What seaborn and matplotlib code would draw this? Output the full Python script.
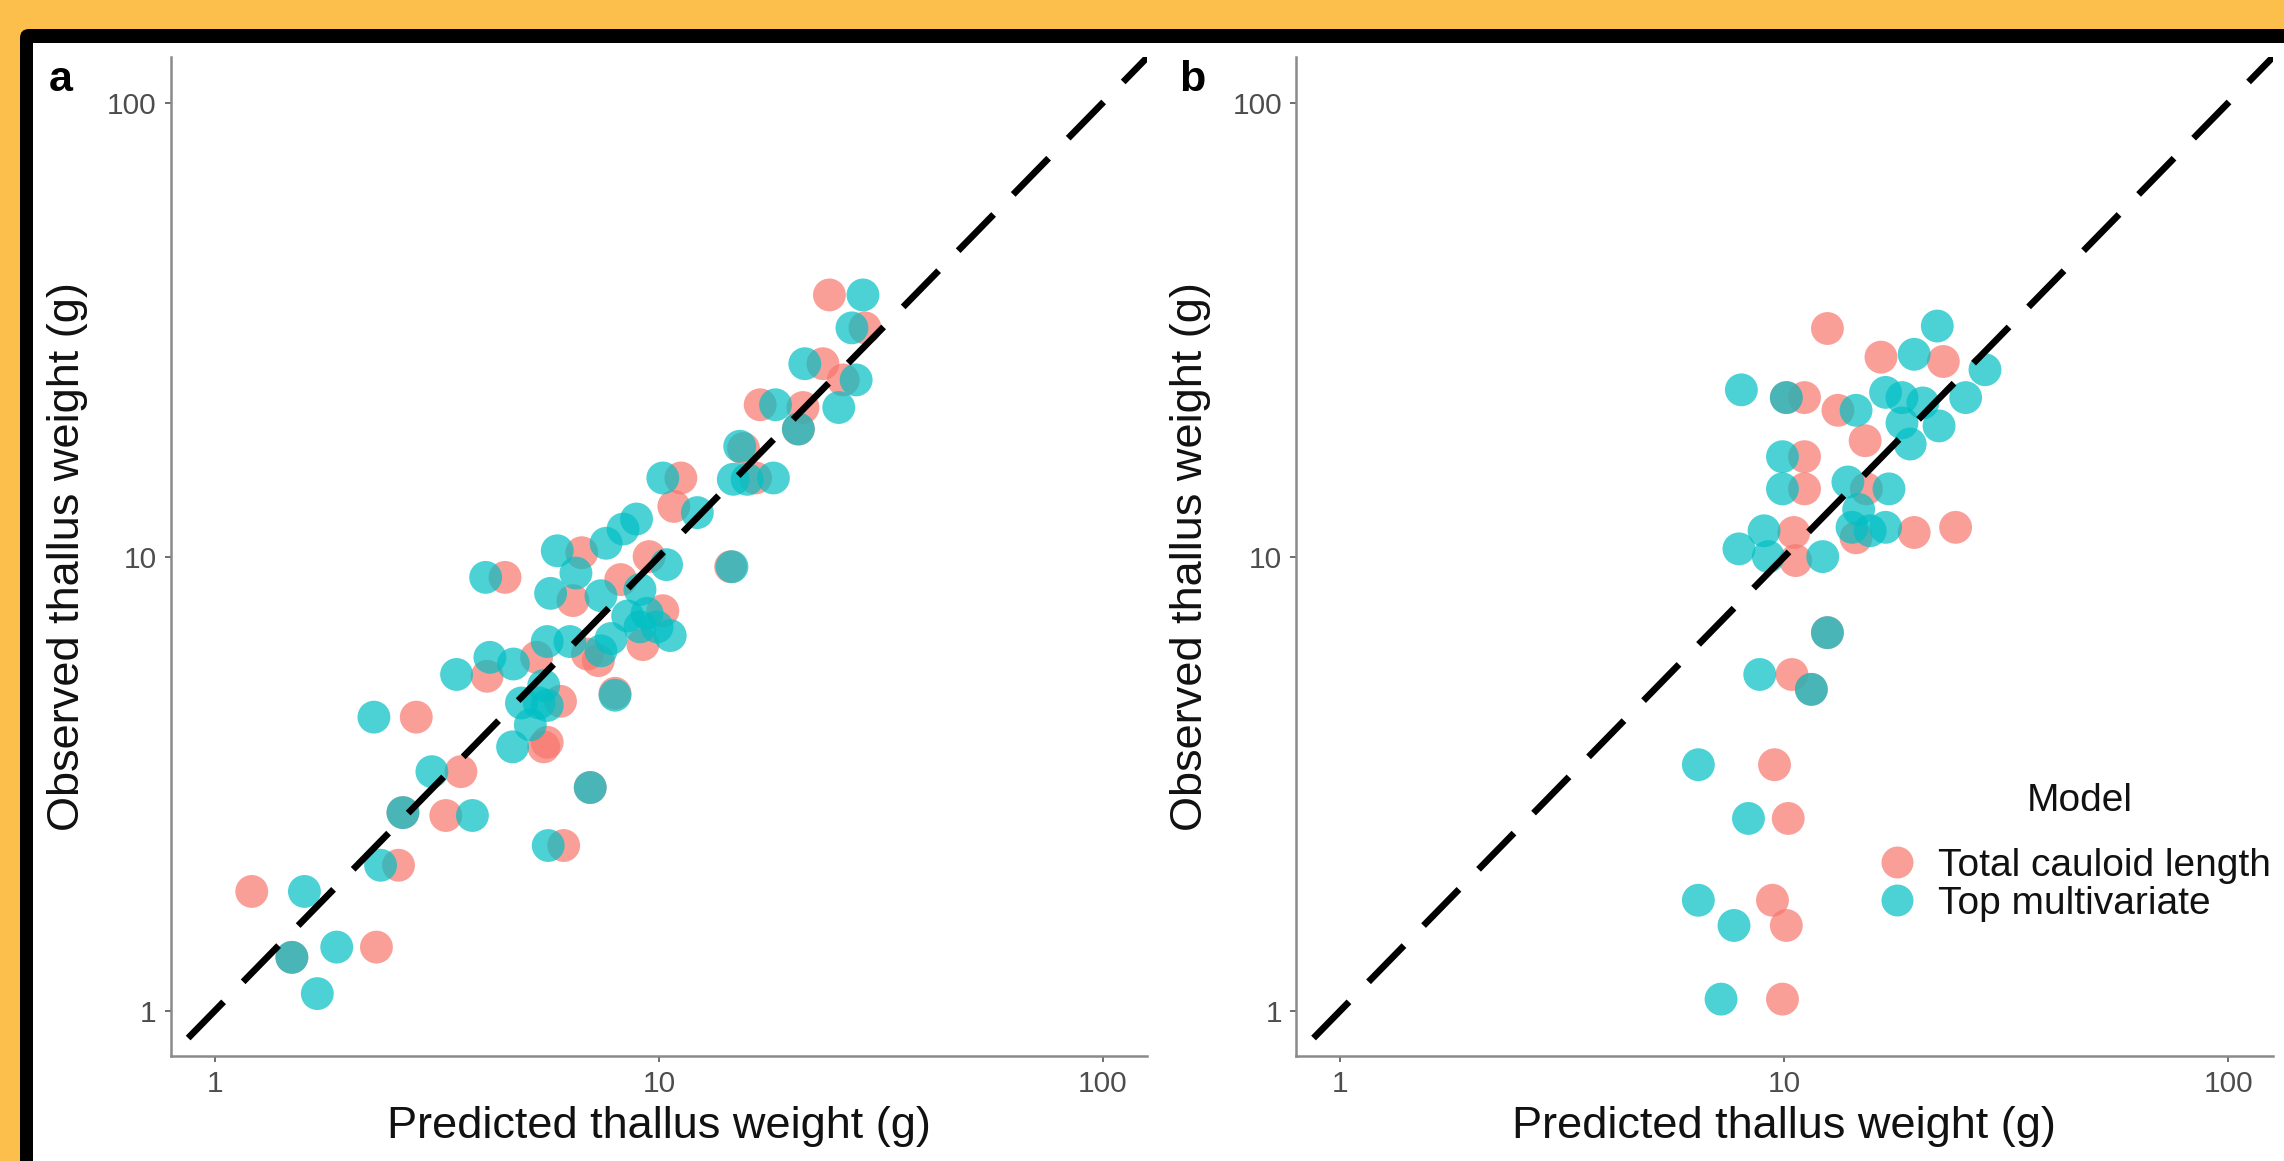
import matplotlib
matplotlib.use("Agg")
import matplotlib.pyplot as plt
import matplotlib.transforms as mtransforms
from matplotlib.patches import FancyBboxPatch, Rectangle
from matplotlib.lines import Line2D
import numpy as np
import pandas as pd
import seaborn as sns

# ---- data (predicted, observed) ----
MODELS = ["Total cauloid length", "Top multivariate"]
COLORS = ["#F8766D", "#00BFC4"]

# panel a
A_TCL_PRED = [1.21, 1.49, 2.31, 2.59, 2.65, 3.31, 3.58, 2.84, 6.1, 7.0, 5.6, 6.0, 4.1, 5.5,
              7.96, 6.9, 4.5, 6.4, 6.7, 8.2, 9.5, 10.2, 10.8, 11.2, 14.5, 16.9, 21.1, 20.6,
              23.4, 24.2, 29.1, 15.5, 16.5, 26.0, 9.2, 7.3, 5.3]
A_TCL_OBS = [1.83, 1.31, 1.38, 2.09, 2.73, 2.69, 3.36, 4.43, 2.31, 3.1, 3.9, 4.8, 5.45, 3.81,
             5.0, 6.1, 9.0, 8.0, 10.2, 8.9, 10.0, 7.6, 12.9, 14.9, 9.5, 21.6, 21.3, 19.1,
             26.6, 37.7, 31.9, 17.3, 14.9, 24.5, 6.4, 5.9, 6.0]
A_TM_PRED = [1.59, 1.49, 1.88, 1.70, 2.36, 2.65, 3.80, 3.08, 2.28, 5.63, 7.0, 3.50, 4.16, 4.7,
             4.68, 4.9, 5.37, 5.13, 5.5, 5.6, 5.6, 6.3, 7.96, 5.7, 6.5, 4.07, 5.9, 7.4, 7.6,
             8.3, 8.9, 7.4, 7.8, 8.5, 9.06, 9.4, 9.06, 9.9, 10.6, 10.4, 14.6, 10.2, 12.2,
             14.7, 15.8, 18.1, 15.2, 20.6, 18.3, 21.3, 25.4, 27.8, 27.2, 28.8]
A_TM_OBS = [1.83, 1.31, 1.38, 1.09, 2.09, 2.73, 2.69, 3.36, 4.43, 2.31, 3.1, 5.5, 6.0, 5.8,
            3.81, 4.76, 4.76, 4.26, 5.2, 4.7, 6.5, 6.5, 4.95, 8.3, 9.2, 9.0, 10.3, 8.2, 10.7,
            11.5, 12.1, 6.2, 6.6, 7.4, 7.0, 7.5, 8.46, 7.0, 6.7, 9.6, 9.5, 14.9, 12.5,
            14.8, 14.8, 14.9, 17.5, 19.1, 21.6, 26.6, 21.3, 24.5, 31.9, 37.7]

# panel b
B_TCL_PRED = [12.5, 16.5, 22.8, 10.1, 11.1, 13.2, 15.2, 11.1, 11.1, 15.3, 19.6, 24.3, 10.5,
              14.5, 10.6, 10.4, 11.5, 12.5, 9.5, 10.2, 9.4, 10.1, 9.9]
B_TCL_OBS = [31.8, 27.5, 26.9, 22.4, 22.4, 21.0, 18.0, 16.6, 14.1, 14.1, 11.3, 11.6, 11.3,
             11.0, 9.8, 5.5, 5.1, 6.8, 3.48, 2.65, 1.75, 1.54, 1.06]
B_TM_PRED = [8.0, 10.1, 14.5, 16.9, 18.4, 20.5, 18.4, 22.3, 25.6, 19.2, 22.1, 19.6, 28.3,
             9.9, 9.9, 13.9, 14.7, 17.2, 16.9, 15.6, 14.2, 9.0, 7.9, 9.2, 12.2, 12.5, 8.8,
             11.5, 6.4, 8.3, 6.4, 7.7, 7.2]
B_TM_OBS = [23.3, 22.4, 21.0, 23.0, 22.4, 21.8, 19.7, 19.4, 22.4, 17.7, 32.2, 27.9, 25.8,
            16.6, 14.1, 14.6, 12.7, 14.1, 11.6, 11.4, 11.6, 11.4, 10.4, 10.0, 10.0, 6.8, 5.5,
            5.1, 3.48, 2.65, 1.75, 1.54, 1.06]

TICKS = [1, 10, 100]
TICK_LABELS = ["1", "10", "100"]
XLABEL = "Predicted thallus weight (g)"
YLABEL = "Observed thallus weight (g)"
LEGEND_TITLE = "Model"

W, H = 2284, 1161
LIM = (10 ** -0.1, 10 ** 2.1)
TEXT_DARK = "#111111"

sns.set_theme(style="white")
plt.rcParams["font.family"] = ["Liberation Sans", "DejaVu Sans"]


def panel_frame(pred_red, obs_red, pred_teal, obs_teal):
    red = pd.DataFrame({"Predicted": pred_red, "Observed": obs_red, "Model": MODELS[0]})
    teal = pd.DataFrame({"Predicted": pred_teal, "Observed": obs_teal, "Model": MODELS[1]})
    return pd.concat([red, teal], ignore_index=True)


def draw_panel(ax, df, ylabel_x):
    sns.scatterplot(data=df, x="Predicted", y="Observed", hue="Model",
                    hue_order=MODELS, palette=dict(zip(MODELS, COLORS)),
                    s=560, alpha=0.7, linewidth=0, ax=ax, legend=False)
    ax.set_xscale("log")
    ax.set_yscale("log")
    ax.set_xlim(*LIM)
    ax.set_ylim(*LIM)
    line_x = np.array([0.87, 200])
    ax.plot(line_x, line_x, color="black", lw=4.8, dashes=(7.6, 4.2),
            dash_capstyle="butt", zorder=3)
    ax.set_xticks(TICKS)
    ax.set_xticklabels(TICK_LABELS)
    ax.set_yticks(TICKS)
    ax.set_yticklabels(TICK_LABELS)
    ax.minorticks_off()
    ax.tick_params(axis="both", length=4, width=1.2, color="#555555", pad=6,
                   labelsize=21.5, labelcolor="#4D4D4D", left=True, bottom=True)
    for side in ("top", "right"):
        ax.spines[side].set_visible(False)
    for side in ("left", "bottom"):
        ax.spines[side].set_color("#8A8A8A")
        ax.spines[side].set_linewidth(1.8)
    ax.set_xlabel(XLABEL, fontsize=32.5, color=TEXT_DARK)
    ax.set_ylabel(YLABEL, fontsize=32.5, color=TEXT_DARK)
    ax.xaxis.set_label_coords(0.5, -0.071)
    ax.xaxis.label.set_va("center")
    ax.yaxis.set_label_coords(ylabel_x, 0.5)
    ax.yaxis.label.set_va("center")
    ax.patch.set_alpha(0)
    ax.grid(False)


fig = plt.figure(figsize=(W / 100, H / 100), dpi=100)
fig.patch.set_facecolor("#FDBF4B")

# rounded black frame, cropped on the right and at the bottom
px = mtransforms.IdentityTransform()
fig.add_artist(FancyBboxPatch((20, -40), W + 40, H + 40 - 29,
                              boxstyle="round,pad=0,rounding_size=9",
                              facecolor="black", edgecolor="none", transform=px,
                              zorder=-20))
fig.add_artist(Rectangle((33, -10), W, H + 10 - 43, facecolor="white",
                         edgecolor="none", transform=px, zorder=-10))

ax_w = 976.8 / W
ax_h = 998.8 / H
ax_bottom = (H - 1056) / H
ax_a = fig.add_axes([170.6 / W, ax_bottom, ax_w, ax_h])
ax_b = fig.add_axes([1296 / W, ax_bottom, ax_w, ax_h])

draw_panel(ax_a, panel_frame(A_TCL_PRED, A_TCL_OBS, A_TM_PRED, A_TM_OBS), -0.106)
draw_panel(ax_b, panel_frame(B_TCL_PRED, B_TCL_OBS, B_TM_PRED, B_TM_OBS), -0.1075)

handles = [Line2D([], [], marker="o", linestyle="none", markersize=23,
                  markerfacecolor=c, markeredgewidth=0, alpha=0.7) for c in COLORS]
leg = ax_b.legend(handles, MODELS, frameon=False, loc="center left",
                  bbox_to_anchor=(1874 / W, 1 - 885 / H), bbox_transform=fig.transFigure,
                  fontsize=28, handletextpad=0.45, labelspacing=0.05,
                  borderpad=0, borderaxespad=0, handlelength=1.2)
for t in leg.get_texts():
    t.set_color(TEXT_DARK)
fig.text(2080 / W, 1 - 801 / H, LEGEND_TITLE, fontsize=28, color=TEXT_DARK,
         ha="center", va="center")

fig.text(61 / W, 1 - 80 / H, "a", fontsize=31, fontweight="bold", color="black",
         ha="center", va="center")
fig.text(1192 / W, 1 - 80 / H, "b", fontsize=31, fontweight="bold", color="black",
         ha="center", va="center")

fig.savefig("out.png", dpi=100, facecolor=fig.get_facecolor())
